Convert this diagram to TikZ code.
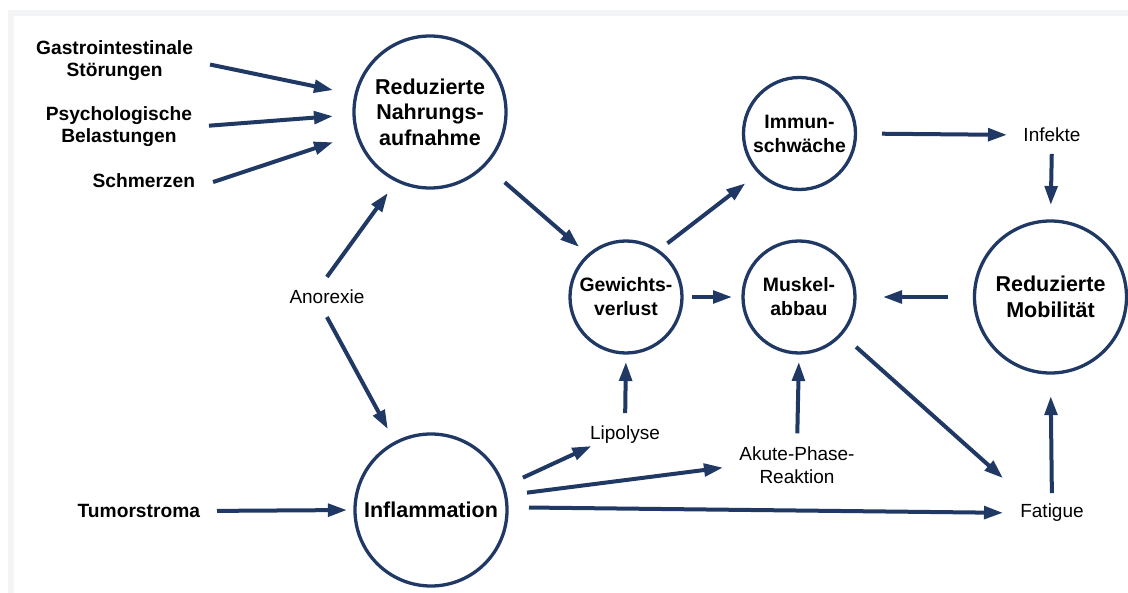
\documentclass[tikz,border=0pt]{standalone}
\usepackage{fontspec}
\setmainfont{Liberation Sans}
\usetikzlibrary{arrows.meta}
\definecolor{navy}{RGB}{31,56,100}
\definecolor{framegray}{RGB}{243,244,246}
\begin{document}
\begin{tikzpicture}[x=1bp,y=-1bp,
  arr/.style={navy, line width=4bp, -{Triangle[length=19bp,width=12.5bp]}},
  bigc/.style={circle, draw=navy, line width=3.3bp, outer sep=1.65bp, minimum size=152bp, inner sep=0pt, align=center, font=\fontsize{21.5bp}{25.5bp}\selectfont\bfseries},
  smallc/.style={circle, draw=navy, line width=3.3bp, outer sep=1.65bp, minimum size=112bp, inner sep=0pt, align=center, font=\fontsize{19.4bp}{24bp}\selectfont\bfseries},
  lbl/.style={inner sep=0pt, outer sep=0pt, align=center, font=\fontsize{19.2bp}{22bp}\selectfont\bfseries},
  txt/.style={inner sep=0pt, outer sep=0pt, align=center, font=\fontsize{19bp}{23bp}\selectfont},
]
\useasboundingbox (0,0) rectangle (1128,593);
\fill[framegray] (8,10) rectangle (1128,593);
\fill[white] (14,16) rectangle (1128,593);

\node[bigc] (N) at (430,112) {Reduzierte\\Nahrungs-\\aufnahme};
\node[bigc] (I) at (431,510) {Inflammation};
\node[bigc] (Mob) at (1050.5,297) {Reduzierte\\Mobilität};
\node[smallc] (G) at (626,297) {Gewichts-\\verlust};
\node[smallc] (M) at (799,297) {Muskel-\\abbau};
\node[smallc] (Imm) at (799.5,133.5) {Immun-\\schwäche};

\node[lbl, anchor=east] (gastro) at (193,61) {Gastrointestinale\\Störungen};
\node[lbl, anchor=east] (psych) at (192,127) {Psychologische\\Belastungen};
\node[lbl, anchor=east] (schmerz) at (195,181) {Schmerzen};
\node[lbl, anchor=east] (tumor) at (200,511) {Tumorstroma};
\node[txt] (anorexie) at (327,297) {Anorexie};
\node[txt] (lipolyse) at (625,435) {Lipolyse};
\node[txt] (akute) at (797,465.5) {Akute-Phase-\\Reaktion};
\node[txt] (infekte) at (1052,135) {Infekte};
\node[txt] (fatigue) at (1052,513) {Fatigue};

\draw[arr, shorten <=17.4bp, shorten >=21.8bp] (gastro.east) -- (N.167);
\draw[arr, shorten <=17bp, shorten >=19.5bp] (psych.east) -- (N.182);
\draw[arr, shorten <=19bp, shorten >=23.9bp] (schmerz.south east) -- (N.197);
\draw[arr, shorten <=16.2bp, shorten >=13.8bp] (anorexie.144) -- (N.244);
\draw[arr, shorten <=14.9bp, shorten >=14bp] (anorexie.224) -- (I.118);
\draw[arr, shorten <=17bp, shorten >=6.4bp] (tumor.east) -- (I.180);
\draw[arr, shorten <=25bp, shorten >=11bp] (N.316) -- (G.132);
\draw[arr, shorten <=10.6bp, shorten >=16bp] (G.55) -- (Imm.224);
\draw[arr, shorten <=8.3bp, shorten >=9.35bp] (G.east) -- (M.west);
\draw[arr, shorten <=24.85bp, shorten >=16.5bp] (Imm.east) -- (infekte.west);
\draw[arr, shorten <=12bp, shorten >=14.35bp] (infekte.south) -- (Mob.north);
\draw[arr, shorten <=24.85bp, shorten >=26.35bp] (Mob.west) -- (M.east);
\draw[arr, shorten <=18.2bp, shorten >=39bp] (M.319) -- (fatigue.156);
\draw[arr, shorten <=11bp, shorten >=21.5bp] (fatigue.north) -- (Mob.south);
\draw[arr, shorten <=13bp, shorten >=7.35bp] (lipolyse.north) -- (G.south);
\draw[arr, shorten <=13.7bp, shorten >=7.35bp] (akute.north) -- (M.south);
\draw[arr, shorten <=19.9bp, shorten >=5.2bp] (I.18) -- (lipolyse.197);
\draw[arr, shorten <=19.9bp, shorten >=16.6bp] (I.11) -- (akute.west);
\draw[arr, shorten <=20.4bp, shorten >=17.3bp] (I.2) -- (fatigue.west);
\end{tikzpicture}
\end{document}
